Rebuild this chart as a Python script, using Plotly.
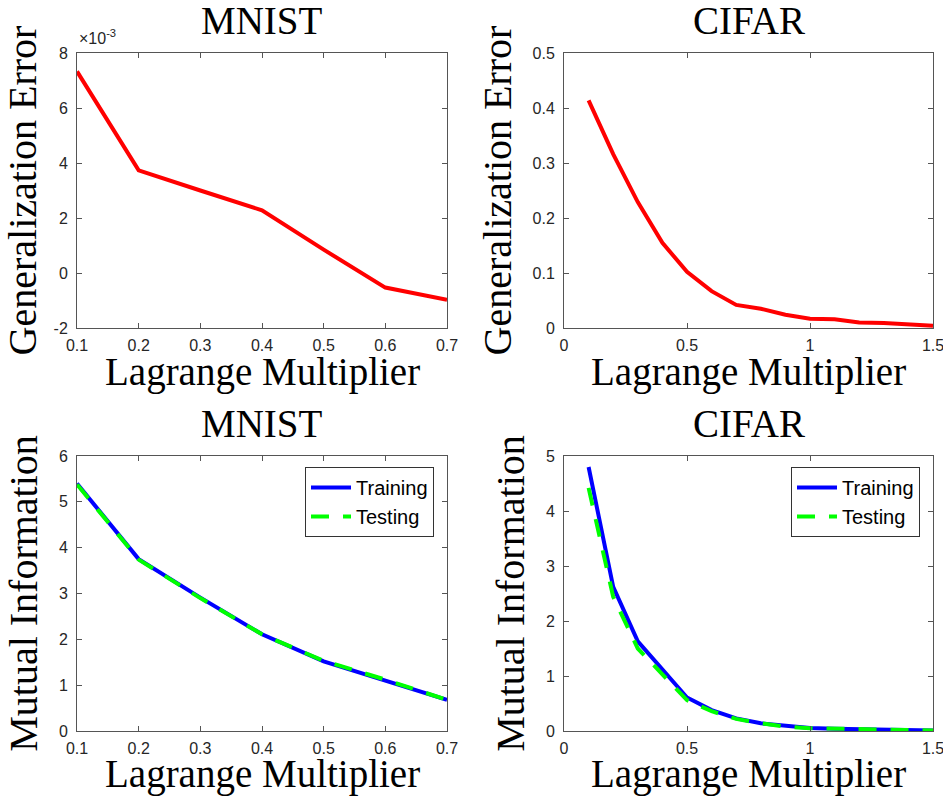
import plotly.graph_objects as go

# ---------------- data ----------------
mnist_lambda = [0.1, 0.2, 0.3, 0.4, 0.5, 0.6, 0.7]
cifar_lambda = [0.1, 0.2, 0.3, 0.4, 0.5, 0.6, 0.7, 0.8, 0.9, 1.0, 1.1, 1.2, 1.3, 1.4, 1.5]

mnist_gen_err = [7.33e-3, 3.73e-3, 3.00e-3, 2.28e-3, 0.85e-3, -0.53e-3, -0.97e-3]
cifar_gen_err = [0.414, 0.316, 0.229, 0.155, 0.102, 0.067, 0.042, 0.035, 0.024,
                 0.017, 0.016, 0.010, 0.009, 0.007, 0.004]

mnist_mi_train = [5.40, 3.75, 2.91, 2.11, 1.52, 1.11, 0.68]
mnist_mi_test = [5.38, 3.74, 2.90, 2.11, 1.53, 1.12, 0.68]
cifar_mi_train = [4.80, 2.62, 1.63, 1.11, 0.61, 0.38, 0.23, 0.14, 0.09, 0.055,
                  0.04, 0.03, 0.02, 0.015, 0.01]
cifar_mi_test = [4.42, 2.44, 1.50, 1.02, 0.56, 0.36, 0.22, 0.14, 0.08, 0.05,
                 0.04, 0.03, 0.02, 0.015, 0.01]

mnist_x_ticks = [0.1, 0.2, 0.3, 0.4, 0.5, 0.6, 0.7]
cifar_x_ticks = [0, 0.5, 1, 1.5]
cifar_x_labels = ["0", "0.5", "1", "1.5"]
mnist_gen_ticks = [-2e-3, 0, 2e-3, 4e-3, 6e-3, 8e-3]
mnist_gen_labels = ["-2", "0", "2", "4", "6", "8"]
cifar_gen_ticks = [0, 0.1, 0.2, 0.3, 0.4, 0.5]
mnist_mi_ticks = [0, 1, 2, 3, 4, 5, 6]
cifar_mi_ticks = [0, 1, 2, 3, 4, 5]

titles = ["MNIST", "CIFAR", "MNIST", "CIFAR"]
x_title = "Lagrange Multiplier"
y_titles = ["Generalization Error", "Generalization Error",
            "Mutual Information", "Mutual Information"]

# ---------------- figure ----------------
W, H = 943, 798
RED, BLUE, GREEN = "#FF0000", "#0000FF", "#00FF00"
AXC = "#262626"
SERIF = "Liberation Serif, Times New Roman, serif"
SANS = "Liberation Sans, Arial, sans-serif"

def px(x):
    return x / W

def py(y):
    return 1 - y / H

fig = go.Figure()

fig.add_trace(go.Scatter(x=mnist_lambda, y=mnist_gen_err, mode="lines",
                         line=dict(color=RED, width=4), showlegend=False,
                         xaxis="x", yaxis="y"))
fig.add_trace(go.Scatter(x=cifar_lambda, y=cifar_gen_err, mode="lines",
                         line=dict(color=RED, width=4), showlegend=False,
                         xaxis="x2", yaxis="y2"))
fig.add_trace(go.Scatter(x=mnist_lambda, y=mnist_mi_train, mode="lines", name="Training",
                         line=dict(color=BLUE, width=4), legend="legend",
                         xaxis="x3", yaxis="y3"))
fig.add_trace(go.Scatter(x=mnist_lambda, y=mnist_mi_test, mode="lines", name="Testing",
                         line=dict(color=GREEN, width=4, dash="18px,14px"), legend="legend",
                         xaxis="x3", yaxis="y3"))
fig.add_trace(go.Scatter(x=cifar_lambda, y=cifar_mi_train, mode="lines", name="Training",
                         line=dict(color=BLUE, width=4), legend="legend2",
                         xaxis="x4", yaxis="y4"))
fig.add_trace(go.Scatter(x=cifar_lambda, y=cifar_mi_test, mode="lines", name="Testing",
                         line=dict(color=GREEN, width=4, dash="18px,14px"), legend="legend2",
                         xaxis="x4", yaxis="y4"))

left_dom = [px(77), px(447)]
right_dom = [px(564), px(933)]
top_dom = [py(328), py(53)]
bot_dom = [py(731), py(456)]

def ax(domain, anchor, rng, tickvals, ticktext=None, standoff=5, title=None):
    d = dict(domain=domain, anchor=anchor, range=rng, tickvals=tickvals,
             showgrid=False, zeroline=False, showline=True, linecolor="#555555",
             linewidth=1, mirror="ticks", ticks="inside", ticklen=5,
             tickcolor="#555555", tickwidth=1, ticklabelstandoff=standoff,
             ticklabeloverflow="allow",
             tickfont=dict(family=SANS, size=16, color=AXC), automargin=False)
    if ticktext is not None:
        d["ticktext"] = ticktext
    if title is not None:
        d["title"] = dict(text=title, standoff=8,
                          font=dict(family=SERIF, size=40, color="black"))
    return d

legend_style = dict(font=dict(family=SANS, size=20, color="black"),
                    bgcolor="white", bordercolor="#333333", borderwidth=1,
                    xanchor="right", yanchor="top", itemwidth=40,
                    tracegroupgap=0)

annotations = []
title_pos = [(262, 21), (748.5, 21), (262, 423), (748.5, 423)]
for t, (x, y) in zip(titles, title_pos):
    annotations.append(dict(text=t, x=px(x), y=py(y), xref="paper", yref="paper",
                            xanchor="center", yanchor="middle", showarrow=False,
                            font=dict(family=SERIF, size=39, color="black")))
# top-row x titles (centred), bottom-row x titles (anchored to the bottom edge)
for x in (262, 748.5):
    annotations.append(dict(text=x_title, x=px(x), y=py(372), xref="paper", yref="paper",
                            xanchor="center", yanchor="middle", showarrow=False,
                            font=dict(family=SERIF, size=39, color="black")))
    annotations.append(dict(text=x_title, x=px(x), y=0, xref="paper", yref="paper",
                            xanchor="center", yanchor="bottom", showarrow=False,
                            font=dict(family=SERIF, size=39, color="black")))
annotations.append(dict(text="\u00d710<sup>-3</sup>", x=px(77), y=py(49), xref="paper",
                        yref="paper", xanchor="left", yanchor="bottom", showarrow=False,
                        font=dict(family=SANS, size=16, color=AXC)))

fig.update_layout(
    width=W, height=H, margin=dict(l=0, r=0, t=0, b=0),
    paper_bgcolor="white", plot_bgcolor="white",
    xaxis=ax(left_dom, "y", [0.1, 0.7], mnist_x_ticks, standoff=3),
    yaxis=ax(top_dom, "x", [-2e-3, 8e-3], mnist_gen_ticks, mnist_gen_labels,
             title=y_titles[0]),
    xaxis2=ax(right_dom, "y2", [0, 1.5], cifar_x_ticks, cifar_x_labels, standoff=3),
    yaxis2=ax(top_dom, "x2", [0, 0.5], cifar_gen_ticks, title=y_titles[1]),
    xaxis3=ax(left_dom, "y3", [0.1, 0.7], mnist_x_ticks, standoff=3),
    yaxis3=ax(bot_dom, "x3", [0, 6], mnist_mi_ticks, title=y_titles[2]),
    xaxis4=ax(right_dom, "y4", [0, 1.5], cifar_x_ticks, cifar_x_labels, standoff=3),
    yaxis4=ax(bot_dom, "x4", [0, 5], cifar_mi_ticks, title=y_titles[3]),
    legend=dict(x=px(434), y=py(467), **legend_style),
    legend2=dict(x=px(920), y=py(467), **legend_style),
    annotations=annotations,
    showlegend=True,
)

fig.write_html("out.html")
